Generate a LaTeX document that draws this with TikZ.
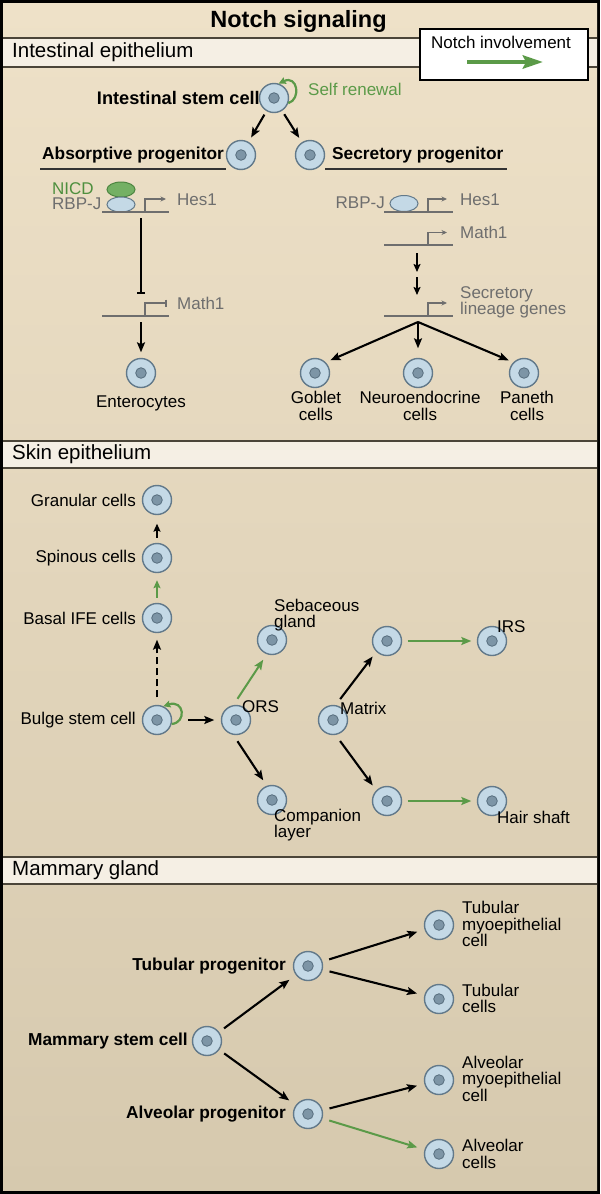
\documentclass[tikz,border=0pt]{standalone}
\usepackage{fontspec}
\setmainfont{Liberation Sans}
\usetikzlibrary{arrows.meta,calc,shapes.geometric}
\definecolor{bgtop}{HTML}{EEE1C8}
\definecolor{bgbot}{HTML}{D6C9AE}
\definecolor{band}{HTML}{F5EFE4}
\definecolor{bandline}{HTML}{4B4539}
\definecolor{notchgreen}{HTML}{5B9A48}
\definecolor{nicdtext}{HTML}{4E8F3E}
\definecolor{genegray}{HTML}{6E6E6E}
\definecolor{cellfill}{HTML}{C4D9E6}
\definecolor{cellline}{HTML}{62798A}
\definecolor{nucfill}{HTML}{7D95A6}
\definecolor{nucline}{HTML}{566D7D}
\definecolor{nicdfill}{HTML}{74B064}
\definecolor{nicdline}{HTML}{4D8540}
\begin{document}
\begin{tikzpicture}[x=1pt,y=1pt,
  font=\fontsize{17}{16.5}\selectfont,
  cell/.style={circle, draw=cellline, fill=cellfill, line width=1.4pt,
    minimum size=29pt, inner sep=0pt,
    path picture={\filldraw[fill=nucfill, draw=nucline, line width=0.8pt]
      (path picture bounding box.center) circle (5.3pt);}},
  lab/.style={inner sep=0pt, text=black},
  blab/.style={inner sep=0pt, text=black, font=\fontsize{17.3}{16.5}\selectfont\bfseries},
  gene/.style={inner sep=0pt, text=genegray},
  header/.style={anchor=west, inner sep=0pt, font=\fontsize{20.5}{22}\selectfont},
  conn/.style={draw=black, line width=2.1pt,
    -{Stealth[length=10pt,width=8pt,inset=2pt]}, shorten <=4pt, shorten >=5pt},
  gconn/.style={conn, draw=notchgreen, line width=2pt},
  dna/.style={draw=genegray, line width=1.6pt},
  prom/.style={draw=genegray, line width=1.5pt, -{Stealth[length=5.5pt,width=5pt]}},
  promoff/.style={draw=genegray, line width=1.5pt, -{Bar[width=7pt,line width=1.8pt]}},
  renew/.style={draw=notchgreen, line width=2.2pt, -{Stealth[length=7pt,width=7pt,inset=1pt]}},
  uline/.style={draw=black!80, line width=1.4pt},
  bandrule/.style={draw=bandline, line width=1.4pt}
]
% ---------- background ----------
\useasboundingbox (0,0) rectangle (600,-1194);
\fill[black] (0,0) rectangle (600,-1194);
\shade[top color=bgtop, bottom color=bgbot] (3,-3) rectangle (597,-1190);
\fill[band] (3,-38) rectangle (597,-67);
\draw[bandrule] (3,-38) -- (597,-38) (3,-67) -- (597,-67);
\fill[band] (3,-441) rectangle (597,-468);
\draw[bandrule] (3,-441) -- (597,-441) (3,-468) -- (597,-468);
\fill[band] (3,-857) rectangle (597,-884);
\draw[bandrule] (3,-857) -- (597,-857) (3,-884) -- (597,-884);

% ---------- title, headers, legend ----------
\node[inner sep=0pt, font=\fontsize{23.5}{25}\selectfont\bfseries] (title) at (298.5,-21) {Notch signaling};
\node[header] (h1) at (12,-52.5) {Intestinal epithelium};
\node[header] (h2) at (12,-454.5) {Skin epithelium};
\node[header] (h3) at (12,-870.5) {Mammary gland};
\node[draw=black, fill=white, line width=1.2pt, minimum width=168pt, minimum height=51pt, inner sep=0pt] (legend) at (504,-54.5) {};
\node[lab] (legtxt) at (501,-42) {Notch involvement};
\coordinate (legA) at (467,-62);
\coordinate (legB) at (543,-62);
\draw[notchgreen, line width=4.5pt, -{Stealth[length=20pt,width=13pt,inset=3pt]}] (legA) -- (legB);

% ---------- intestinal epithelium ----------
\node[cell] (isc) at (274,-98) {};
\node[blab, anchor=east, font=\fontsize{18.2}{18}\selectfont\bfseries] (iscl) at (260,-98) {Intestinal stem cell};
\node[lab, anchor=west, text=notchgreen] (selfl) at (308,-89) {Self renewal};
\draw[renew] (isc.-20) .. controls +(13,4) and +(19,9) .. (isc.72);

\node[cell] (absc) at (241,-155) {};
\node[cell] (secc) at (310,-155) {};
\draw[conn] (isc) -- (absc);
\draw[conn] (isc) -- (secc);
\node[blab, anchor=west] (absl) at (42,-155) {Absorptive progenitor};
\node[blab, anchor=west] (secl) at (332,-155) {Secretory progenitor};
\draw[uline] ([xshift=-2pt,yshift=-14pt]absl.west) -- ([xshift=2pt,yshift=-14pt]absl.east);
\draw[uline] ([xshift=-7pt,yshift=-14pt]secl.west) -- ([xshift=3pt,yshift=-14pt]secl.east);

% absorptive branch
\node[ellipse, draw=nicdline, fill=nicdfill, line width=1pt, minimum width=28pt, minimum height=15pt, inner sep=0pt] (nicd) at (121,-189.5) {};
\node[ellipse, draw=cellline, fill=cellfill, line width=1pt, minimum width=28pt, minimum height=15pt, inner sep=0pt] (rbpa) at (121,-204.5) {};
\node[lab, anchor=west, text=nicdtext] (nicdl) at (52,-188.5) {NICD};
\node[gene, anchor=west] (rbpal) at (52,-204) {RBP-J};
\draw[dna] (102,-212) -- (169,-212);
\draw[prom] (145,-212) -- (145,-199) -- (166,-199);
\node[gene, anchor=west] (hes1a) at (177,-200) {Hes1};
\coordinate (inhS) at (141,-218);
\coordinate (inhE) at (141,-294);
\draw[black, line width=2.2pt, -{Bar[width=8pt,line width=2.2pt]}] (inhS) -- (inhE);
\draw[dna] (102,-316) -- (169,-316);
\draw[promoff] (145,-316) -- (145,-303) -- (167,-303);
\node[gene, anchor=west] (math1a) at (177,-303) {Math1};
\coordinate (entS) at (141,-322);
\node[cell] (ent) at (141,-373) {};
\draw[conn, shorten <=0pt, shorten >=5.5pt] (entS) -- (ent);
\node[lab] (entl) at (141,-403) {Enterocytes};

% secretory branch
\node[ellipse, draw=cellline, fill=cellfill, line width=1pt, minimum width=28pt, minimum height=16pt, inner sep=0pt] (rbpb) at (404,-203.5) {};
\node[gene, anchor=east] (rbpbl) at (385,-203) {RBP-J};
\draw[dna] (384,-212) -- (453,-212);
\draw[prom] (428,-212) -- (428,-199) -- (447,-199);
\node[gene, anchor=west] (hes1b) at (460,-200) {Hes1};
\draw[dna] (384,-245) -- (453,-245);
\draw[prom] (428,-245) -- (428,-232.5) -- (447,-232.5);
\node[gene, anchor=west] (math1b) at (460,-232) {Math1};
\coordinate (sa1) at (417,-253);
\coordinate (sa2) at (417,-272);
\coordinate (sa3) at (417,-277);
\coordinate (sa4) at (417,-295);
\draw[conn, shorten <=0pt, shorten >=0pt, -{Stealth[length=8pt,width=7pt,inset=1.5pt]}] (sa1) -- (sa2);
\draw[conn, shorten <=0pt, shorten >=0pt, -{Stealth[length=8pt,width=7pt,inset=1.5pt]}] (sa3) -- (sa4);
\draw[dna] (384,-316) -- (453,-316);
\draw[prom] (428,-316) -- (428,-303) -- (447,-303);
\node[gene, anchor=west, align=left] (secg) at (460,-302.5) {Secretory\\lineage genes};
\coordinate (br) at (418,-322);
\node[cell] (gob) at (315,-373) {};
\node[cell] (neu) at (418,-373) {};
\node[cell] (pan) at (524,-373) {};
\draw[conn, shorten <=0pt, shorten >=5pt] (br) -- (gob.45);
\draw[conn, shorten <=0pt, shorten >=9.5pt] (br) -- (neu);
\draw[conn, shorten <=0pt, shorten >=5pt] (br) -- (pan.135);
\node[lab, align=center] (gobl) at (316,-406) {Goblet\\cells};
\node[lab, align=center] (neul) at (420,-406) {Neuroendocrine\\cells};
\node[lab, align=center] (panl) at (527,-406) {Paneth\\cells};

% ---------- skin epithelium ----------
\node[cell] (gran) at (157,-500) {};
\node[cell] (spin) at (157,-558) {};
\node[cell] (basal) at (157,-618) {};
\node[cell] (bulge) at (157,-720) {};
\node[lab, anchor=east] (granl) at (136,-500) {Granular cells};
\node[lab, anchor=east] (spinl) at (136,-558) {Spinous cells};
\node[lab, anchor=east] (basall) at (136,-618) {Basal IFE cells};
\node[lab, anchor=east] (bulgel) at (136,-720) {Bulge stem cell};
\draw[conn, shorten <=5pt, shorten >=8.5pt, -{Stealth[length=8pt,width=7pt,inset=1.5pt]}] (spin) -- (gran);
\draw[gconn, shorten <=5pt, shorten >=7pt, -{Stealth[length=8pt,width=7pt,inset=1.5pt]}] (basal) -- (spin);
\draw[conn, line width=2.4pt, dash pattern=on 7pt off 4pt, shorten <=7.5pt, shorten >=6.5pt] (bulge) -- (basal);
\draw[renew] (bulge.-15) .. controls +(15,1) and +(21,7) .. (bulge.65);

\node[cell] (ors) at (236,-720) {};
\node[cell] (seb) at (272,-640) {};
\node[cell] (comp) at (272,-800) {};
\node[cell] (matrix) at (333,-720) {};
\node[cell] (up) at (387,-641) {};
\node[cell] (low) at (387,-801) {};
\node[cell] (irs) at (492,-641) {};
\node[cell] (hair) at (492,-801) {};
\draw[conn, shorten <=16pt, shorten >=6.5pt] (bulge) -- (ors);
\draw[gconn, shorten <=7.5pt, shorten >=6.5pt] (ors.100) -- (seb.250);
\draw[conn, shorten <=7.5pt, shorten >=6.5pt] (ors.260) -- (comp.110);
\draw[conn, shorten <=7.5pt, shorten >=6pt] (matrix.80) -- (up.225);
\draw[conn, shorten <=7.5pt, shorten >=6pt] (matrix.280) -- (low.135);
\draw[gconn, shorten <=5.5pt, shorten >=5.5pt] (up) -- (irs);
\draw[gconn, shorten <=5.5pt, shorten >=5.5pt] (low) -- (hair);
\node[lab, anchor=west] (orsl) at (242,-707) {ORS};
\node[lab, anchor=west] (matl) at (340,-708) {Matrix};
\node[lab, anchor=west, align=left] (sebl) at (274,-615) {Sebaceous\\gland};
\node[lab, anchor=west, align=left] (compl) at (274,-825) {Companion\\layer};
\node[lab, anchor=west] (irsl) at (497,-627) {IRS};
\node[lab, anchor=west] (hairl) at (497,-817) {Hair shaft};

% ---------- mammary gland ----------
\node[cell] (msc) at (207,-1041) {};
\node[cell] (tubp) at (308,-966) {};
\node[cell] (alvp) at (308,-1114) {};
\node[cell] (tmyo) at (439,-925) {};
\node[cell] (tcel) at (439,-999) {};
\node[cell] (amyo) at (439,-1080) {};
\node[cell] (acel) at (439,-1154) {};
\node[blab, anchor=east] (mscl) at (188,-1041) {Mammary stem cell};
\node[blab, anchor=east] (tubpl) at (286,-966) {Tubular progenitor};
\node[blab, anchor=east] (alvpl) at (286,-1114) {Alveolar progenitor};
\node[lab, anchor=west, align=left] (tmyol) at (462,-924) {Tubular\\myoepithelial\\cell};
\node[lab, anchor=west, align=left] (tcell) at (462,-998.5) {Tubular\\cells};
\node[lab, anchor=west, align=left] (amyol) at (462,-1078.5) {Alveolar\\myoepithelial\\cell};
\node[lab, anchor=west, align=left] (acell) at (462,-1154) {Alveolar\\cells};
\draw[conn, shorten <=6pt, shorten >=8pt] (msc) -- (tubp);
\draw[conn, shorten <=6pt, shorten >=8pt] (msc) -- (alvp);
\draw[conn, shorten <=7pt, shorten >=7.5pt] (tubp) -- (tmyo);
\draw[conn, shorten <=7pt, shorten >=7.5pt] (tubp) -- (tcel);
\draw[conn, shorten <=7pt, shorten >=7.5pt] (alvp) -- (amyo);
\draw[gconn, shorten <=7pt, shorten >=7.5pt] (alvp) -- (acel);
\end{tikzpicture}
\end{document}
